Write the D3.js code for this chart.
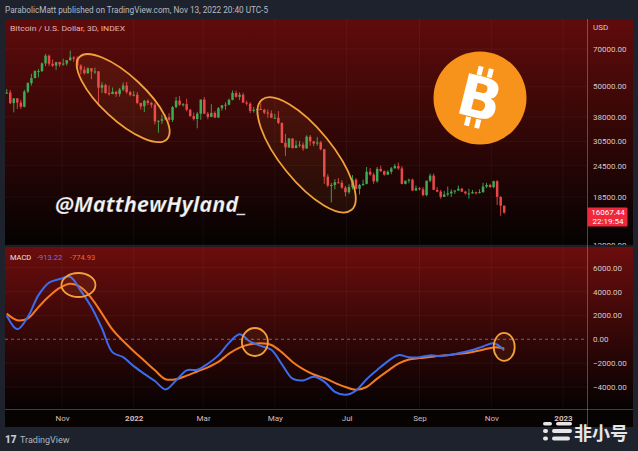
<!DOCTYPE html>
<html><head><meta charset="utf-8">
<script src="https://cdn.jsdelivr.net/npm/d3@7"></script>
<style>html,body{margin:0;padding:0;background:#1e222d;overflow:hidden}</style>
</head><body><svg id="c" width="638" height="451"></svg>
<script>
// ---------- DATA ----------
const barStart = "2021-09-15";   // first 3D bar
const barDays = 3;
const firstOpen = 47100;
const closes = [
47300,43000,44900,43200,41600,47700,51500,53900,57400,57400,
61500,65900,61300,60300,62200,60900,61400,63300,64900,64200,
60300,58100,56300,58900,57200,57200,49400,50600,47100,46700,
47600,46700,48600,50400,47500,46300,46400,43100,41800,43900,
43100,42400,36500,36700,37200,37900,37000,41500,44000,42400,
42600,40500,38300,37300,39100,44400,39100,38000,39400,37800,
41100,42200,42400,44300,47100,45500,46400,43200,42800,40100,
40500,40800,40500,39500,39200,37700,37700,36000,30100,28900,
31300,28700,29400,29600,28600,31800,30500,29900,30200,28400,
22200,20500,20600,21100,21000,20100,19300,20200,21600,19900,
20600,20800,23200,22600,21300,23800,23300,22600,23200,23900,
24400,23900,20800,21400,21600,19600,20000,19800,18800,21400,
22400,19700,19400,18500,18900,19100,19400,19600,19900,19400,
19100,19100,19300,19200,19300,20300,20600,20200,21300,18500,
17100,16067.44];
const highs = [
48800,48400,45000,45000,44300,48500,51900,56000,57800,58500,
62000,67000,66600,63700,62400,62400,64200,63400,69000,65600,
65500,61000,59800,59300,59000,59200,57400,51900,51200,50400,
49500,48000,49300,51800,52000,48100,47900,47500,43100,44300,
44500,43500,43000,36800,38800,38700,39300,41900,45500,45800,
43000,44700,40900,39500,39800,44500,45400,39700,42600,40000,
41500,42300,43300,44800,48200,48100,47400,47200,44000,43400,
41600,41000,42900,40900,40600,40300,39100,40000,36100,32600,
31400,31300,30700,30600,30200,32200,32300,30600,31700,30600,
28500,22700,21000,21700,21900,21500,20400,20700,22500,21900,
20800,21600,24200,24000,23000,24200,24500,23500,23500,24200,
24900,25200,24400,21400,21800,21800,20500,20200,20200,21400,
22800,22800,20200,19700,19500,20300,19800,19600,20500,20100,
19500,19900,19700,19400,19800,21000,21000,20800,21400,21500,
18600,17100];
const lows = [
46800,42600,39600,40800,40800,41400,47100,50400,53700,54200,
56900,60000,60000,59600,58000,59600,60200,60300,63000,62300,
59000,55700,55600,55900,53300,56000,42000,47100,46800,46000,
46600,45500,45600,47900,46800,45700,45700,42600,40600,39700,
42300,41300,35500,33000,35700,36900,36300,36300,41100,42000,
41700,40000,38000,36800,34300,37000,39000,37200,37900,37600,
37600,40200,40500,42200,44100,45200,44200,43100,42100,39300,
39500,38600,40400,38900,37700,37600,37500,35600,30000,26700,
28700,28600,28700,28900,28000,28500,29300,29200,29300,28100,
20800,20200,17600,19800,20900,19900,18600,19000,19800,19800,
18900,20400,20700,22400,20800,21000,23200,22400,22500,22700,
23900,23600,20700,20700,20900,19500,19500,19600,18600,18600,
21100,19700,19300,18200,18500,18600,18500,19000,19500,19300,
18900,18200,19000,18900,19100,19200,20000,20100,20000,17200,
15600,15900];

const macdBars = [0,3,6,9,12,15,18,21,24,27,30,33,36,39,42,45,48,51,54,57,60,63,66,69,72,75,78,81,84,87,90,93,96,99,102,105,108,111,114,117,120,123,126,129,132,135,138,141];
const macdLine = [2000,850,1880,3700,4750,5050,5230,4060,2700,900,-1100,-1500,-2250,-2900,-3500,-4200,-3450,-2600,-2560,-2050,-1350,-300,420,-200,-550,-880,-2100,-3300,-3450,-3150,-3550,-4400,-4650,-4300,-3350,-2570,-1850,-1330,-1500,-1500,-1350,-1400,-1300,-1100,-900,-600,-340,-913];
const signalLine = [2150,1600,1750,2700,3600,4300,4650,4350,3450,2150,800,-150,-1000,-1800,-2600,-3350,-3350,-3050,-2700,-2350,-1900,-1200,-700,-420,-340,-480,-1100,-1900,-2500,-2950,-3250,-3650,-4000,-4230,-4000,-3300,-2650,-2050,-1700,-1580,-1480,-1370,-1300,-1200,-1060,-880,-680,-775];

const priceTicks = [70000,50000,38000,30500,24500,18500,12000];
const macdTicks = [6000,4000,2000,0,-2000,-4000];
const timeTicks = ["2021-11-01","2022-01-01","2022-03-01","2022-05-01","2022-07-01","2022-09-01","2022-11-01","2023-01-01"];
const timeLabels = ["Nov","2022","Mar","May","Jul","Sep","Nov","2023"];
const lastPrice = 16067.44;
const countdown = "22:19:54";
const macdLegend = ["-913.22","-774.93"];
// annotation anchors (date, value, rx, ry, angle)
const priceRings = [["2021-12-23",45000,60,22,43],["2022-05-28",27000,71,26,51]];
const macdRings = [["2021-11-15",4550,17,12],["2022-04-14",-230,13,14],["2022-11-12",-640,10.5,14]];

// ---------- LAYOUT ----------
const L=5, R=633, AX=587, PT=19, PB=245, MT=247, MB=409, XB=427;
const FONT = "Roboto, 'Liberation Sans', sans-serif";
const svg = d3.select("#c");
svg.append("rect").attr("width",638).attr("height",451).attr("fill","#1e222d");

const x = d3.scaleUtc().domain([new Date("2021-11-01"), new Date("2023-01-01")]).range([62,563]);
const yP = d3.scaleLog().domain([12000,70000]).range([245,49]);
const yM = d3.scaleLinear().domain([-4000,6000]).range([387,267.7]);
const barDate = i => d3.utcDay.offset(new Date(barStart), barDays*i);

const defs = svg.append("defs");
function grad(id,y1,y2,c1,c2){
  const g = defs.append("linearGradient").attr("id",id).attr("gradientUnits","userSpaceOnUse")
    .attr("x1",0).attr("x2",0).attr("y1",y1).attr("y2",y2);
  g.append("stop").attr("offset","0").attr("stop-color",c1);
  g.append("stop").attr("offset","1").attr("stop-color",c2);
}
grad("gp",PT,PB,"#600b0b","#050202");
grad("gm",MT,MB,"#6c0d0d","#060202");
defs.append("clipPath").attr("id","cp").append("rect").attr("x",L).attr("y",PT).attr("width",AX-L).attr("height",PB-PT);
defs.append("clipPath").attr("id","cm").append("rect").attr("x",L).attr("y",MT).attr("width",AX-L).attr("height",MB-MT);
defs.append("clipPath").attr("id","cpa").append("rect").attr("x",AX).attr("y",PT).attr("width",R-AX).attr("height",PB-PT);

svg.append("rect").attr("x",L).attr("y",PT).attr("width",R-L).attr("height",PB-PT).attr("fill","url(#gp)");
svg.append("rect").attr("x",L).attr("y",MT).attr("width",R-L).attr("height",MB-MT).attr("fill","url(#gm)");
svg.append("rect").attr("x",L).attr("y",PB).attr("width",R-L).attr("height",MT-PB).attr("fill","#1a1d26");
svg.append("rect").attr("x",L).attr("y",MB).attr("width",R-L).attr("height",XB-MB).attr("fill","#070303");

// grid
const tDates = timeTicks.map(d=>new Date(d));
const grid = svg.append("g").attr("stroke","rgba(255,255,255,0.045)").attr("stroke-width",1);
grid.selectAll(".vp").data(tDates).join("line").attr("x1",d=>x(d)).attr("x2",d=>x(d)).attr("y1",PT).attr("y2",PB);
grid.selectAll(".vm").data(tDates).join("line").attr("x1",d=>x(d)).attr("x2",d=>x(d)).attr("y1",MT).attr("y2",MB);
grid.selectAll(".hp").data(priceTicks).join("line").attr("x1",L).attr("x2",AX).attr("y1",d=>yP(d)).attr("y2",d=>yP(d));
grid.selectAll(".hm").data(macdTicks.filter(d=>d!==0)).join("line").attr("x1",L).attr("x2",AX).attr("y1",d=>yM(d)).attr("y2",d=>yM(d));

// separators
svg.append("line").attr("x1",AX+0.5).attr("x2",AX+0.5).attr("y1",PT).attr("y2",XB).attr("stroke","rgba(200,200,210,0.35)");
svg.append("line").attr("x1",L).attr("x2",R).attr("y1",MB+0.5).attr("y2",MB+0.5).attr("stroke","rgba(200,200,210,0.3)");

// ---------- candles ----------
const bars = closes.map((c,i)=>({i, d:barDate(i), o: i===0?firstOpen:closes[i-1], h:highs[i], l:lows[i], c}));
const cg = svg.append("g").attr("clip-path","url(#cp)");
const UP="#3dab55", DN="#e8484a";
cg.selectAll(".w").data(bars).join("line")
  .attr("x1",b=>x(b.d)).attr("x2",b=>x(b.d)).attr("y1",b=>yP(b.h)).attr("y2",b=>yP(b.l))
  .attr("stroke",b=>b.c>=b.o?UP:DN).attr("stroke-width",0.9);
cg.selectAll(".b").data(bars).join("rect")
  .attr("x",b=>x(b.d)-1.25).attr("width",2.5)
  .attr("y",b=>Math.min(yP(b.o),yP(b.c))).attr("height",b=>Math.max(1,Math.abs(yP(b.o)-yP(b.c))))
  .attr("fill",b=>b.c>=b.o?UP:DN);

// price rings
const ringG = svg.append("g").attr("clip-path","url(#cp)");
priceRings.forEach(([d,v,rx,ry,a])=>{
  ringG.append("ellipse").attr("transform",`translate(${x(new Date(d))},${yP(v)}) rotate(${a})`)
    .attr("rx",rx).attr("ry",ry).attr("fill","rgba(255,150,60,0.07)").attr("stroke","#f2a13a").attr("stroke-width",1.8);
});

// watermark text
svg.append("text").attr("x",55).attr("y",212).attr("textLength",192).attr("lengthAdjust","spacingAndGlyphs")
  .attr("font-family","'Open Sans', 'DejaVu Sans', sans-serif").attr("font-weight",700).attr("font-style","italic")
  .attr("font-size",21).attr("fill","#f4f4f4").attr("stroke","rgba(0,0,0,0.4)").attr("stroke-width",0.6)
  .text("@MatthewHyland_");

// bitcoin logo
const logo = svg.append("g").attr("transform","translate(480,98)");
logo.append("circle").attr("r",46.5).attr("fill","#f7931a");
const bg = logo.append("g").attr("transform","rotate(14)");
bg.append("text").attr("text-anchor","middle").attr("y",20).attr("font-family","'DejaVu Sans', sans-serif")
  .attr("font-weight",700).attr("font-size",57).attr("fill","#ffffff").text("B");
[[-9,-31],[1.5,-31],[-9,21],[1.5,21]].forEach(([bx,by])=>{
  bg.append("rect").attr("x",bx).attr("y",by).attr("width",5).attr("height",9).attr("fill","#ffffff");
});

// ---------- price axis ----------
const paWrap = svg.append("g").attr("clip-path","url(#cpa)");
const pa = paWrap.append("g").attr("transform",`translate(${AX},0)`)
  .call(d3.axisRight(yP).tickValues(priceTicks).tickFormat(d3.format(".2f")).tickSize(0).tickPadding(6));
pa.select(".domain").remove();
pa.selectAll("text").attr("fill","#d9c8c8").attr("font-family",FONT).attr("font-size",8);
svg.append("text").attr("x",AX+6).attr("y",30).attr("fill","#d9c8c8").attr("font-family",FONT).attr("font-size",8).text("USD");

// last price label
const lp = yP(lastPrice);
svg.append("rect").attr("x",AX+0.5).attr("y",lp-5).attr("width",40).attr("height",19).attr("fill","#f0283a").attr("rx",1);
svg.append("text").attr("x",AX+21).attr("y",lp+2).attr("text-anchor","middle").attr("fill","#fff").attr("font-family",FONT).attr("font-size",8).text(d3.format(".2f")(lastPrice));
svg.append("text").attr("x",AX+21).attr("y",lp+11).attr("text-anchor","middle").attr("fill","#fff").attr("font-family",FONT).attr("font-size",8).text(countdown);

// ---------- MACD ----------
const mg = svg.append("g").attr("clip-path","url(#cm)");
mg.append("line").attr("x1",L).attr("x2",AX).attr("y1",yM(0)).attr("y2",yM(0))
  .attr("stroke","rgba(200,190,190,0.5)").attr("stroke-dasharray","3,3");
const line = d3.line().x(d=>x(barDate(d[0]))).y(d=>yM(d[1])).curve(d3.curveCatmullRom.alpha(0.5));
mg.append("path").attr("d",line(macdBars.map((b,k)=>[b,signalLine[k]]))).attr("fill","none").attr("stroke","#f47a22").attr("stroke-width",2);
mg.append("path").attr("d",line(macdBars.map((b,k)=>[b,macdLine[k]]))).attr("fill","none").attr("stroke","#3a6cf0").attr("stroke-width",2);
macdRings.forEach(([d,v,rx,ry])=>{
  mg.append("ellipse").attr("cx",x(new Date(d))).attr("cy",yM(v)).attr("rx",rx).attr("ry",ry)
    .attr("fill","rgba(255,150,60,0.08)").attr("stroke","#f2a13a").attr("stroke-width",1.8);
});
const ma = svg.append("g").attr("transform",`translate(${AX},0)`)
  .call(d3.axisRight(yM).tickValues(macdTicks).tickFormat(d3.format(".2f")).tickSize(0).tickPadding(6));
ma.select(".domain").remove();
ma.selectAll("text").attr("fill","#d9c8c8").attr("font-family",FONT).attr("font-size",8);

const lg = svg.append("g").attr("font-family",FONT).attr("font-size",7.5);
lg.append("text").attr("x",10).attr("y",260).attr("fill","#f0e0e0").text("MACD");
lg.append("text").attr("x",37).attr("y",260).attr("fill","#6d74e8").text(macdLegend[0]);
lg.append("text").attr("x",70).attr("y",260).attr("fill","#f0683a").text(macdLegend[1]);

// ---------- time axis ----------
const xa = svg.append("g").attr("transform",`translate(0,${MB})`)
  .call(d3.axisBottom(x).tickValues(tDates).tickFormat((d,i)=>timeLabels[i]).tickSize(0).tickPadding(6));
xa.select(".domain").remove();
xa.selectAll("text").attr("fill","#d6bcbc").attr("font-family",FONT).attr("font-size",8)
  .attr("font-weight",(d,i)=>/^\d/.test(timeLabels[i])?700:400);

// ---------- header / footer ----------
svg.append("text").attr("x",5).attr("y",13).attr("fill","#b8bbc4").attr("font-family",FONT).attr("font-size",8.5)
  .attr("textLength",263).attr("lengthAdjust","spacingAndGlyphs")
  .text("ParabolicMatt published on TradingView.com, Nov 13, 2022 20:40 UTC-5");
svg.append("text").attr("x",10).attr("y",31).attr("fill","#e4b4b4").attr("font-family",FONT).attr("font-size",8)
  .attr("textLength",115).attr("lengthAdjust","spacingAndGlyphs")
  .text("Bitcoin / U.S. Dollar, 3D, INDEX");

svg.append("text").attr("x",5).attr("y",443).attr("fill","#c8cad0").attr("font-family",FONT).attr("font-weight",900).attr("font-size",10).text("17");
svg.append("text").attr("x",20).attr("y",443).attr("fill","#b2b5be").attr("font-family",FONT).attr("font-size",9).text("TradingView");

// 非小号 watermark
const wm = svg.append("g").attr("fill","#e6e6e6");
[[543,422,9,3.5],[556,422,16,3.5],[543,429,5,4],[552,429,20,4],[543,436.5,5,4],[552,436.5,18,4]].forEach(([a,b,w,h])=>{
  wm.append("rect").attr("x",a).attr("y",b).attr("width",w).attr("height",h).attr("rx",h/2);
});
wm.append("text").attr("x",574).attr("y",440).attr("font-family","'Noto Sans CJK SC', sans-serif").attr("font-weight",700)
  .attr("font-size",18).text("非小号");
</script></body></html>
